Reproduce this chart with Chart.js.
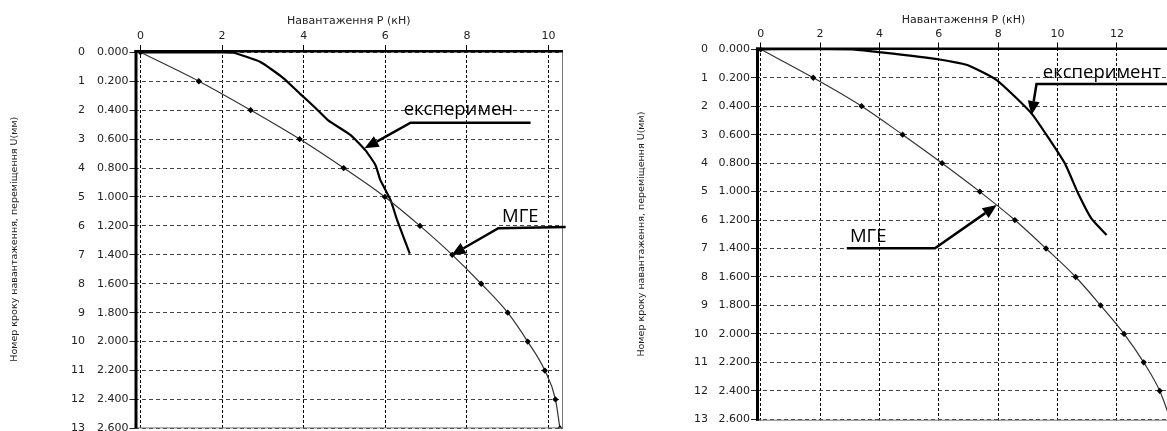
<!DOCTYPE html>
<html>
<head>
<meta charset="utf-8">
<script src="https://cdn.jsdelivr.net/npm/chart.js@4.4.1/dist/chart.umd.min.js"></script>
<style>
  html, body { margin: 0; padding: 0; background: #fff; overflow: hidden; width: 1167px; height: 431px; }
  canvas { position: absolute; top: 0; }
  #left { left: 0; }
  #right { left: 600px; }
</style>
</head>
<body>
<canvas id="left" width="583" height="440"></canvas>
<canvas id="right" width="590" height="440"></canvas>
<script>
// --- data ---
const stepTicks = [0, 1, 2, 3, 4, 5, 6, 7, 8, 9, 10, 11, 12, 13];
const uTicks = [0, 0.2, 0.4, 0.6, 0.8, 1.0, 1.2, 1.4, 1.6, 1.8, 2.0, 2.2, 2.4, 2.6];
const xTicksLeft = [0, 2, 4, 6, 8, 10];
const xTicksRight = [0, 2, 4, 6, 8, 10, 12];

// left chart
const mgeULeft = [0, 0.2, 0.4, 0.6, 0.8, 1.0, 1.2, 1.4, 1.6, 1.8, 2.0, 2.2, 2.4, 2.6];
const mgePLeft = [0, 1.43, 2.70, 3.90, 4.98, 5.99, 6.85, 7.64, 8.35, 9.00, 9.49, 9.91, 10.17, 10.28];
const expPLeft = [0, 2.0, 2.28, 2.94, 3.50, 3.92, 4.29, 4.60, 5.15, 5.51, 5.76, 5.88, 6.13, 6.29, 6.60];
const expULeft = [0, 0, 0.003, 0.067, 0.178, 0.289, 0.385, 0.470, 0.572, 0.676, 0.780, 0.884, 1.022, 1.160, 1.391];

// right chart
const mgeURight = [0, 0.2, 0.4, 0.6, 0.8, 1.0, 1.2, 1.4, 1.6, 1.8, 2.0, 2.2, 2.4, 2.6];
const mgePRight = [0, 1.77, 3.40, 4.78, 6.11, 7.38, 8.56, 9.61, 10.61, 11.45, 12.24, 12.90, 13.44, 13.80];
const expPRight = [0, 3.08, 4.02, 5.98, 6.96, 7.95, 9.12, 10.24, 10.69, 11.14, 11.65];
const expURight = [0, 0, 0.021, 0.070, 0.110, 0.216, 0.45, 0.80, 1.012, 1.19, 1.305];

// labels with arrows (positions in data units)
const notesLeft = [
  { text: 'експеримен', p: 7.79, u: 0.434, pathP: [9.56, 6.62, 5.49], pathU: [0.487, 0.487, 0.664] },
  { text: 'МГЕ', p: 9.31, u: 1.174, pathP: [10.42, 8.77, 7.62], pathU: [1.207, 1.216, 1.403] }
];
const notesRight = [
  { text: 'експеримент', p: 11.49, u: 0.204, pathP: [13.95, 9.29, 9.12], pathU: [0.244, 0.244, 0.462] },
  { text: 'МГЕ', p: 3.62, u: 1.352, pathP: [2.90, 5.87, 7.95], pathU: [1.398, 1.398, 1.095] }
];

const xTitle = 'Навантаження P (кН)';
const yTitle = 'Номер кроку навантаження, переміщення U(мм)';

Chart.defaults.font.family = '"DejaVu Sans", sans-serif';
Chart.defaults.color = '#222';

const toXY = (xs, ys) => xs.map((x, i) => ({ x: x, y: ys[i] }));

// frame and arrow labels
const sketchPlugin = {
  id: 'sketch',
  afterDatasetsDraw(chart, args, opts) {
    const { ctx, chartArea: a, scales } = chart;
    ctx.save();
    ctx.setLineDash([]);
    ctx.strokeStyle = '#777';
    ctx.lineWidth = 1;
    ctx.beginPath();
    ctx.moveTo(a.right - 0.5, a.top);
    ctx.lineTo(a.right - 0.5, a.bottom);
    ctx.moveTo(a.left, a.bottom - 0.5);
    ctx.lineTo(a.right, a.bottom - 0.5);
    ctx.stroke();
    ctx.strokeStyle = '#000';
    ctx.lineWidth = 2.5;
    ctx.beginPath();
    ctx.moveTo(a.left, a.top + 1.25);
    ctx.lineTo(a.right, a.top + 1.25);
    ctx.stroke();
    ctx.lineWidth = 3;
    ctx.beginPath();
    ctx.moveTo(a.left + 1.5, a.top);
    ctx.lineTo(a.left + 1.5, a.bottom);
    ctx.stroke();

    const px = v => scales.x.getPixelForValue(v);
    const py = v => scales.u.getPixelForValue(v);
    ctx.font = '18.5px "Open Sans"';
    ctx.fillStyle = '#000';
    ctx.textAlign = 'center';
    ctx.textBaseline = 'alphabetic';
    (opts.notes || []).forEach(n => {
      ctx.fillText(n.text, px(n.p), py(n.u));
      const pts = n.pathP.map((p, i) => [px(p), py(n.pathU[i])]);
      const [tx, ty] = pts[pts.length - 1];
      const [bx, by] = pts[pts.length - 2];
      const ang = Math.atan2(ty - by, tx - bx);
      const hl = 14, hw = 6;
      const hx = tx - hl * Math.cos(ang), hy = ty - hl * Math.sin(ang);
      ctx.lineWidth = 2.5;
      ctx.beginPath();
      ctx.moveTo(pts[0][0], pts[0][1]);
      for (let i = 1; i < pts.length - 1; i++) ctx.lineTo(pts[i][0], pts[i][1]);
      ctx.lineTo(hx, hy);
      ctx.stroke();
      ctx.beginPath();
      ctx.moveTo(tx, ty);
      ctx.lineTo(hx + hw * Math.sin(ang), hy - hw * Math.cos(ang));
      ctx.lineTo(hx - hw * Math.sin(ang), hy + hw * Math.cos(ang));
      ctx.closePath();
      ctx.fill();
    });
    ctx.restore();
  }
};

function makeChart(id, s) {
  const tickFont = { size: 11 };
  return new Chart(document.getElementById(id), {
    type: 'line',
    data: {
      datasets: [
        {
          label: 'МГЕ',
          data: toXY(s.mgeP, s.mgeU),
          borderColor: '#333',
          borderWidth: 1.2,
          pointStyle: 'rectRot',
          pointRadius: 2.3,
          pointBackgroundColor: '#000',
          pointBorderColor: '#000',
          cubicInterpolationMode: 'monotone',
          xAxisID: 'x',
          yAxisID: 'u'
        },
        {
          label: 'експеримент',
          data: toXY(s.expP, s.expU),
          borderColor: '#000',
          borderWidth: 2.2,
          pointRadius: 0,
          tension: 0.15,
          xAxisID: 'x',
          yAxisID: 'u'
        }
      ]
    },
    options: {
      responsive: false,
      animation: false,
      devicePixelRatio: 1,
      layout: { padding: { left: 0, top: 0, right: s.padRight, bottom: s.padBottom } },
      plugins: {
        legend: { display: false },
        tooltip: { enabled: false },
        sketch: { notes: s.notes }
      },
      scales: {
        x: {
          type: 'linear',
          position: 'top',
          min: s.xMin,
          max: s.xMax,
          afterBuildTicks: sc => { sc.ticks = s.xTicks.map(v => ({ value: v })); },
          ticks: { padding: s.xTickPad, font: tickFont, color: '#222' },
          grid: { color: '#000', lineWidth: 1, tickLength: 5, tickColor: '#000' },
          border: { display: false, dash: [3, 2] },
          title: { display: true, text: xTitle, font: { size: 11 }, color: '#222', padding: { top: s.xTitlePad, bottom: 0 } },
          afterFit: sc => { sc.height = s.top; }
        },
        u: {
          type: 'linear',
          position: 'left',
          reverse: true,
          weight: 1,
          min: s.uMin,
          max: s.uMax,
          afterBuildTicks: sc => { sc.ticks = uTicks.map(v => ({ value: v })); },
          ticks: { padding: 1, font: tickFont, color: '#222', callback: v => Number(v).toFixed(3), autoSkip: false },
          grid: { color: '#444', lineWidth: 1, tickLength: 5, tickColor: '#222' },
          border: { display: false, dash: [4, 3] },
          afterFit: sc => { sc.width = s.uWidth; }
        },
        step: {
          type: 'linear',
          position: 'left',
          reverse: true,
          weight: 2,
          min: s.uMin / 0.2,
          max: s.uMax / 0.2,
          afterBuildTicks: sc => { sc.ticks = stepTicks.map(v => ({ value: v })); },
          ticks: { padding: s.stepPad, font: tickFont, color: '#222', autoSkip: false },
          grid: { display: false, drawTicks: false },
          border: { display: false },
          title: { display: true, text: yTitle, font: { size: 9.5 }, color: '#222', padding: { top: s.yTitlePad, bottom: 0 } },
          afterFit: sc => { sc.width = s.stepWidth; }
        }
      }
    },
    plugins: [sketchPlugin]
  });
}

makeChart('left', {
  mgeP: mgePLeft, mgeU: mgeULeft, expP: expPLeft, expU: expULeft, notes: notesLeft,
  xTicks: xTicksLeft, xMin: -0.147, xMax: 10.355,
  uMin: -0.016, uMax: 2.6,
  top: 50, padRight: 20, padBottom: 11.5,
  stepWidth: 90, uWidth: 44.5, stepPad: 5,
  xTickPad: 2, xTitlePad: 15, yTitlePad: 9
});

makeChart('right', {
  mgeP: mgePRight, mgeU: mgeURight, expP: expPRight, expU: expURight, notes: notesRight,
  xTicks: xTicksRight, xMin: -0.158, xMax: 13.82,
  uMin: -0.0127, uMax: 2.61,
  top: 47.5, padRight: 19, padBottom: 19.3,
  stepWidth: 110, uWidth: 46, stepPad: 2,
  xTickPad: 1.4, xTitlePad: 13.7, yTitlePad: 36
});
</script>
</body>
</html>
